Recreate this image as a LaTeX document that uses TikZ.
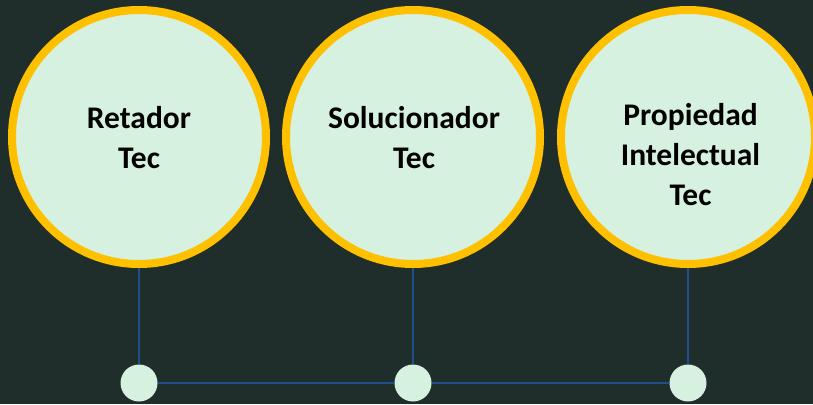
\documentclass[tikz,border=0pt]{standalone}
\usepackage{fontspec}
\setmainfont{Carlito}
\definecolor{bgc}{HTML}{1F2E2B}
\definecolor{fillc}{HTML}{D6F1DF}
\definecolor{ringc}{HTML}{FFC000}
\definecolor{linec}{HTML}{1F4E8C}
\pgfdeclarelayer{bglayer}
\pgfdeclarelayer{linelayer}
\pgfsetlayers{bglayer,linelayer,main}
\tikzset{
  bigcirc/.style={circle, draw=ringc, line width=8pt, fill=fillc, minimum size=254pt, inner sep=0pt},
  dotc/.style={circle, fill=fillc, minimum size=37pt, inner sep=0pt},
  lbl/.style={font=\fontsize{31.5pt}{40pt}\selectfont\bfseries, align=center, inner sep=0pt, text=black},
  conn/.style={draw=linec, line width=2pt}
}
\begin{document}
\begin{tikzpicture}[x=1pt,y=-1pt]
\begin{pgfonlayer}{bglayer}
\fill[bgc] (0,0) rectangle (813,404);
\end{pgfonlayer}
\useasboundingbox (0,0) rectangle (813,404);
\node[bigcirc] (c1) at (139,137) {};
\node[bigcirc] (c2) at (413,137) {};
\node[bigcirc] (c3) at (688,137) {};
\node[lbl] (t1) at (139,137.5) {Retador\\Tec};
\node[lbl] (t2) at (414,137.5) {Solucionador\\Tec};
\node[lbl] (t3) at (690.5,155) {Propiedad\\Intelectual\\Tec};
\node[dotc] (d1) at (139,383) {};
\node[dotc] (d2) at (413,383) {};
\node[dotc] (d3) at (688,383) {};
\begin{pgfonlayer}{linelayer}
\draw[conn] (c1.south) -- (d1.north);
\draw[conn] (c2.south) -- (d2.north);
\draw[conn] (c3.south) -- (d3.north);
\draw[conn] (d1.east) -- (d2.west);
\draw[conn] (d2.east) -- (d3.west);
\end{pgfonlayer}
\end{tikzpicture}
\end{document}
